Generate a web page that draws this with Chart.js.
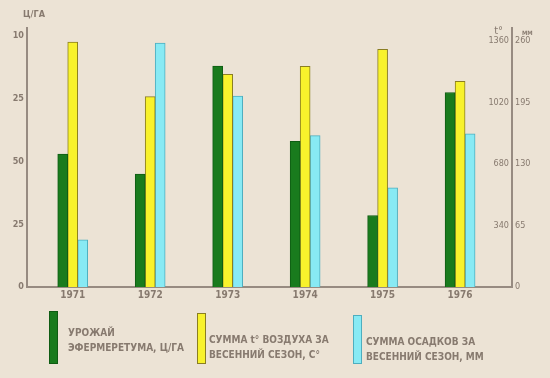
<!DOCTYPE html>
<html>
<head>
<meta charset="utf-8">
<script src="https://cdn.jsdelivr.net/npm/chart.js@4/dist/chart.umd.min.js"></script>
<style>
  html, body { margin: 0; padding: 0; background: #ece3d5; }
  #wrap { position: relative; width: 550px; height: 378px; }
</style>
</head>
<body>
<div id="wrap"><canvas id="chart" width="550" height="378"></canvas></div>
<script>
// values
var years = [1971, 1972, 1973, 1974, 1975, 1976];
var yieldValues = [53, 45, 88, 58, 28.5, 77.5];          // ц/га, left axis
var tempValues = [1354, 1053, 1176, 1221, 1315, 1137];   // сумма t°, right axis
var rainValues = [50, 258, 202, 160, 105, 162];          // сумма осадков, мм

var leftTicks = [0, 25, 50, 75, 100];
var leftTickLabels = ['0', '25', '50', '25', '10'];
var tempTicks = [0, 340, 680, 1020, 1360];
var tempTickLabels = ['', '340', '680', '1020', '1360'];
var rainTicks = [0, 65, 130, 195, 260];
var rainTickLabels = ['0', '65', '130', '195', '260'];

var legendLines = [
    ['УРОЖАЙ', 'ЭФЕРМЕРЕТУМА, Ц/ГА'],
    ['СУММА t° ВОЗДУХА ЗА', 'ВЕСЕННИЙ СЕЗОН, С°'],
    ['СУММА ОСАДКОВ ЗА', 'ВЕСЕННИЙ СЕЗОН, ММ']
];

var inkColor = '#877a6f';
var axisColor = '#978b81';
var narrowFont = '"DejaVu Sans Condensed", "Liberation Sans Narrow", sans-serif';

function points(values) {
    return years.map(function (y, i) { return { x: y, y: values[i] }; });
}

function fixedTicks(list) {
    return function (scale) {
        scale.ticks = list.map(function (v) { return { value: v }; });
    };
}

var paperPlugin = {
    id: 'paper',
    beforeDraw: function (chart) {
        var ctx = chart.ctx;
        ctx.save();
        ctx.fillStyle = '#ece3d5';
        ctx.fillRect(0, 0, chart.width, chart.height);
        ctx.restore();
    },
    afterDraw: function (chart) {
        var ctx = chart.ctx;
        var area = chart.chartArea;
        ctx.save();
        ctx.fillStyle = inkColor;
        ctx.textBaseline = 'middle';

        // axis units
        ctx.font = 'bold 9px ' + narrowFont;
        ctx.textAlign = 'left';
        ctx.fillText('Ц/ГА', area.left - 4, area.top - 13);
        ctx.font = '11px ' + narrowFont;
        ctx.textAlign = 'right';
        ctx.fillText('t°', area.right - 9, area.top + 3);
        ctx.font = 'bold 6px ' + narrowFont;
        ctx.textAlign = 'left';
        ctx.fillText('ММ', area.right + 10, area.top + 5);

        // legend
        var boxX = [49, 197, 353];
        var boxTop = [311, 313, 315];
        var textX = [68, 209, 366];
        var textY = [[333, 348], [340, 355], [342, 357]];
        chart.data.datasets.forEach(function (ds, i) {
            ctx.fillStyle = ds.backgroundColor;
            ctx.strokeStyle = ds.borderColor;
            ctx.lineWidth = 1;
            ctx.fillRect(boxX[i], boxTop[i], 9, 364 - boxTop[i]);
            ctx.strokeRect(boxX[i] + 0.5, boxTop[i] + 0.5, 8, 363 - boxTop[i]);
            ctx.fillStyle = inkColor;
            ctx.font = 'bold 10px ' + narrowFont;
            ctx.textAlign = 'left';
            legendLines[i].forEach(function (line, j) {
                ctx.fillText(line, textX[i], textY[i][j]);
            });
        });
        ctx.restore();
    }
};

var tickFont = { family: narrowFont, size: 9, weight: 'bold' };

new Chart(document.getElementById('chart'), {
    type: 'bar',
    data: {
        datasets: [{
            label: 'Урожай эфермеретума, ц/га',
            data: points(yieldValues),
            yAxisID: 'y',
            backgroundColor: '#197b1d',
            borderColor: '#0f5c13',
            borderWidth: 1,
            barThickness: 10
        }, {
            label: 'Сумма t° воздуха за весенний сезон, С°',
            data: points(tempValues),
            yAxisID: 'y1',
            backgroundColor: '#f8f22c',
            borderColor: '#8a7e22',
            borderWidth: 1,
            barThickness: 10
        }, {
            label: 'Сумма осадков за весенний сезон, мм',
            data: points(rainValues),
            yAxisID: 'y2',
            backgroundColor: '#88eaf4',
            borderColor: '#4eaebf',
            borderWidth: 1,
            barThickness: 10
        }]
    },
    options: {
        responsive: false,
        animation: false,
        layout: { padding: { left: 0, right: 8, top: 28, bottom: 77 } },
        plugins: { legend: { display: false }, tooltip: { enabled: false } },
        scales: {
            x: {
                type: 'linear',
                offset: false,
                min: 1970.41,
                max: 1976.67,
                afterBuildTicks: fixedTicks(years),
                afterFit: function (s) { s.height = 14; },
                grid: { display: false, drawTicks: false, offset: false },
                border: { color: axisColor, width: 2 },
                ticks: {
                    color: inkColor,
                    padding: 2,
                    font: { family: narrowFont, size: 10, weight: 'bold' },
                    callback: function (v) { return String(v); }
                }
            },
            y: {
                position: 'left',
                min: 0,
                max: 103.2,
                afterBuildTicks: fixedTicks(leftTicks),
                afterFit: function (s) { s.width = 27; },
                grid: { display: false, drawTicks: false },
                border: { color: axisColor, width: 2 },
                ticks: {
                    color: inkColor,
                    padding: 3,
                    font: tickFont,
                    callback: function (v, i) { return leftTickLabels[i]; }
                }
            },
            y1: {
                position: 'right',
                min: 0,
                max: 1432.5,
                afterBuildTicks: fixedTicks(tempTicks),
                afterFit: function (s) { s.width = 0; },
                grid: { display: false, drawTicks: false },
                border: { color: axisColor, width: 2 },
                ticks: {
                    mirror: true,
                    color: inkColor,
                    padding: -3,
                    font: { family: narrowFont, size: 9 },
                    callback: function (v, i) { return tempTickLabels[i]; }
                }
            },
            y2: {
                position: 'right',
                min: 0,
                max: 273.9,
                afterBuildTicks: fixedTicks(rainTicks),
                afterFit: function (s) { s.width = 30; },
                grid: { display: false, drawTicks: false },
                border: { display: false },
                ticks: {
                    color: inkColor,
                    padding: 3,
                    font: { family: narrowFont, size: 9 },
                    callback: function (v, i) { return rainTickLabels[i]; }
                }
            }
        }
    },
    plugins: [paperPlugin]
});
</script>
</body>
</html>
